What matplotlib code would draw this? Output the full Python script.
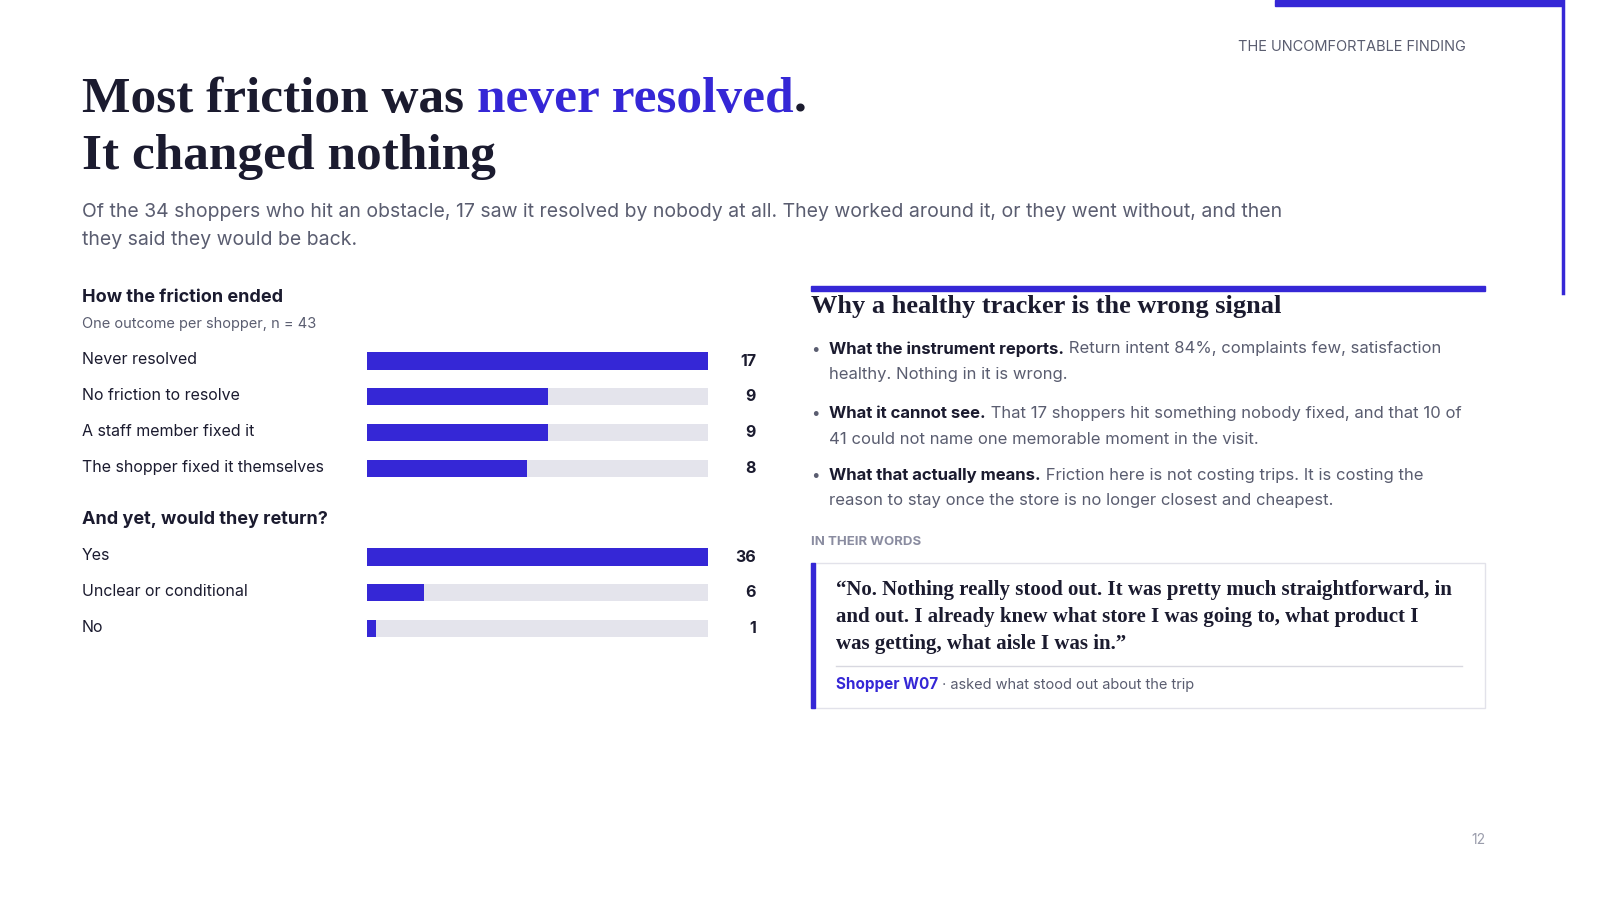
import matplotlib.pyplot as plt
from matplotlib.patches import Rectangle
from matplotlib.lines import Line2D

BLUE = "#3527d6"
DARK = "#1b1b2f"
GREY = "#5a5d70"
TRACK = "#e4e4ec"
SANS = ["Inter", "DejaVu Sans"]
SERIF = ["Liberation Serif", "DejaVu Serif"]

friction_labels = ["Never resolved", "No friction to resolve", "A staff member fixed it",
                   "The shopper fixed it themselves"]
friction_values = [17, 9, 9, 8]
return_labels = ["Yes", "Unclear or conditional", "No"]
return_values = [36, 6, 1]

W, H = 1600, 900
fig = plt.figure(figsize=(16, 9), dpi=100)


def fy(py):
    return 1 - py / H


def txt(px, py, s, **kw):
    kw.setdefault("family", SANS)
    kw.setdefault("va", "center")
    return fig.text(px / W, fy(py), s, **kw)


# decorations
fig.add_artist(Rectangle((1275 / W, fy(6)), 287 / W, 6 / H, color=BLUE, transform=fig.transFigure))
fig.add_artist(Line2D([1563 / W] * 2, [fy(0), fy(293)], color=BLUE, lw=2.5, transform=fig.transFigure))
txt(1466, 47, "THE UNCOMFORTABLE FINDING", ha="right", fontsize=10.5, color=GREY)
txt(1486, 840, "12", ha="right", fontsize=10, color="#9a9cab")

# title
fig.canvas.draw()
r = fig.canvas.get_renderer()
x = 82
for part, col in [("Most friction was ", DARK), ("never resolved", BLUE), (".", DARK)]:
    t = txt(x, 100, part, fontsize=37, weight="bold", family=SERIF, color=col)
    x += t.get_window_extent(r).width
txt(82, 157, "It changed nothing", fontsize=37, weight="bold", family=SERIF, color=DARK)
txt(82, 212, "Of the 34 shoppers who hit an obstacle, 17 saw it resolved by nobody at all. "
    "They worked around it, or they went without, and then", fontsize=14, color=GREY)
txt(82, 240, "they said they would be back.", fontsize=14, color=GREY)

# left charts
txt(82, 297, "How the friction ended", fontsize=13, weight="bold", color=DARK)
txt(82, 324, "One outcome per shopper, n = 43", fontsize=10.5, color=GREY)
txt(82, 520, "And yet, would they return?", fontsize=13, weight="bold", color=DARK)


def group(labels, values, first_py):
    step = 35.7
    top = first_py - step / 2
    ax = fig.add_axes([367 / W, fy(top + step * len(labels)), 341 / W, step * len(labels) / H])
    n = len(labels)
    ys = list(range(n))
    mx = max(values)
    ax.barh(ys, [mx] * n, height=0.48, color=TRACK)
    ax.barh(ys, values, height=0.48, color=BLUE)
    ax.set_xlim(0, mx)
    ax.set_ylim(n - 0.5, -0.5)
    ax.axis("off")
    for i, (lab, v) in enumerate(zip(labels, values)):
        py = first_py + i * step
        txt(82, py - 1, lab, fontsize=11.5, color=DARK)
        txt(756, py, str(v), ha="right", fontsize=11.5, weight="bold", color=DARK)


group(friction_labels, friction_values, 361)
group(return_labels, return_values, 557)

# right panel
fig.add_artist(Rectangle((811 / W, fy(291)), 674 / W, 5 / H, color=BLUE, transform=fig.transFigure))
txt(811, 307, "Why a healthy tracker is the wrong signal", fontsize=19, weight="bold",
    family=SERIF, color=DARK)
bullets = [
    (349, "What the instrument reports.", " Return intent 84%, complaints few, satisfaction",
     "healthy. Nothing in it is wrong."),
    (414, "What it cannot see.", " That 17 shoppers hit something nobody fixed, and that 10 of",
     "41 could not name one memorable moment in the visit."),
    (476, "What that actually means.", " Friction here is not costing trips. It is costing the",
     "reason to stay once the store is no longer closest and cheapest."),
]
for py, head, rest, line2 in bullets:
    txt(811, py, "•", fontsize=11, color=GREY)
    t = txt(829, py, head, fontsize=12, weight="bold", color=DARK)
    wdt = t.get_window_extent(r).width
    txt(829 + wdt, py, rest, fontsize=12, color=GREY)
    txt(829, py + 25, line2, fontsize=12, color=GREY)

txt(811, 542, "IN THEIR WORDS", fontsize=9.5, weight="bold", color="#8a8ca0")
fig.add_artist(Rectangle((811 / W, fy(708)), 674 / W, 145 / H, facecolor="white",
                         edgecolor="#e2e2ea", lw=1, transform=fig.transFigure))
fig.add_artist(Rectangle((811 / W, fy(708)), 4 / W, 145 / H, color=BLUE, transform=fig.transFigure))
quote = ["\u201cNo. Nothing really stood out. It was pretty much straightforward, in",
         "and out. I already knew what store I was going to, what product I",
         "was getting, what aisle I was in.\u201d"]
for i, q in enumerate(quote):
    txt(836, 590 + i * 27, q, fontsize=15, weight="bold", family=SERIF, color=DARK)
fig.add_artist(Line2D([836 / W, 1462 / W], [fy(666)] * 2, color="#d8d8e0", lw=1,
                      transform=fig.transFigure))
t = txt(836, 685, "Shopper W07", fontsize=11, weight="bold", color=BLUE)
txt(836 + t.get_window_extent(r).width, 685, " \u00b7 asked what stood out about the trip",
    fontsize=10.5, color=GREY)

fig.savefig("out.png", dpi=100, facecolor="white")
